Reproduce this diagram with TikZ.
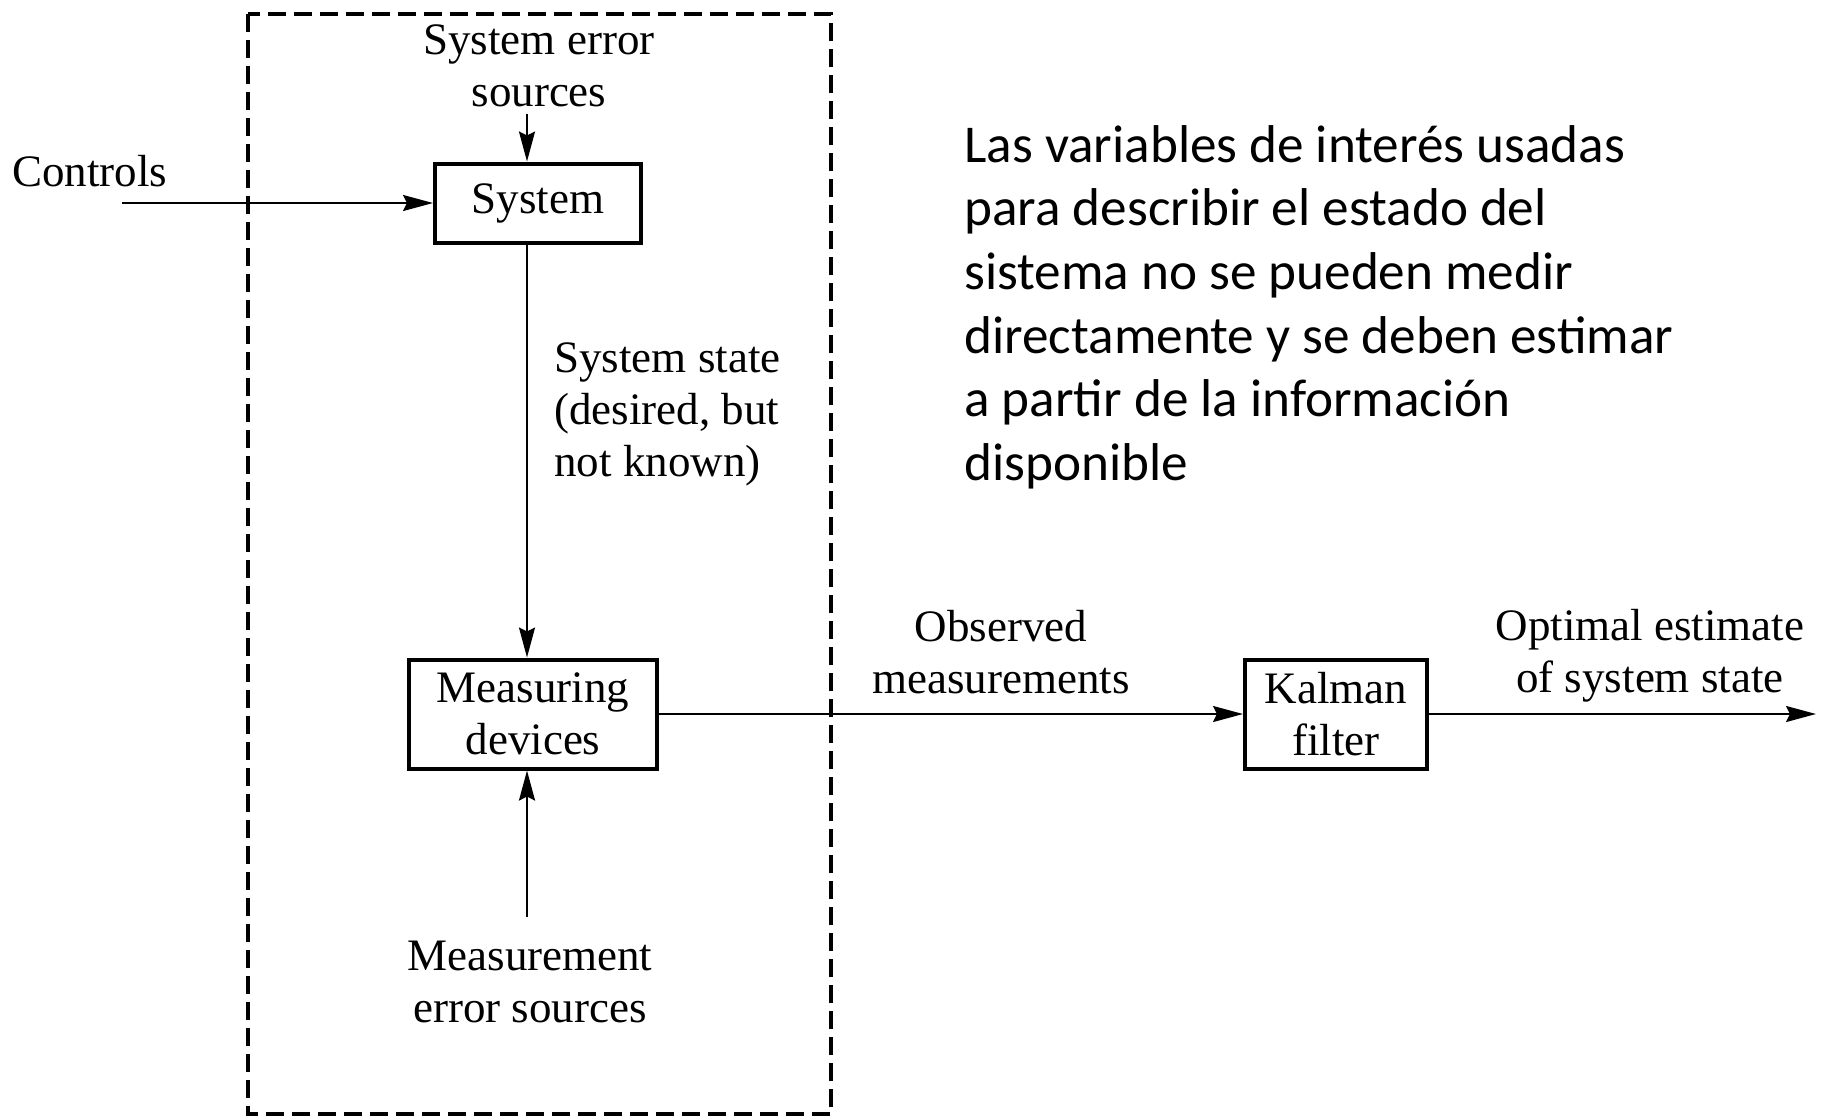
\documentclass[tikz,border=0pt]{standalone}
\usepackage{fontspec}
\setmainfont{Liberation Serif}
\newfontfamily\notefont{Carlito}
\usepackage{tikz}
\usetikzlibrary{arrows.meta}

\newcommand{\lblfont}{\fontsize{22.5}{26}\selectfont}
\tikzset{
  blk/.style={draw, line width=2pt, align=center, font=\lblfont, inner sep=0pt},
  lbl/.style={align=center, font=\lblfont, inner sep=0pt},
  flow/.style={-{Stealth[length=15pt,width=8pt,inset=2pt]}, line width=1.1pt}
}

\begin{document}
\begin{tikzpicture}[x=0.5pt,y=-0.5pt]
\useasboundingbox (0,0) rectangle (1825,1116);

% boundary of the real system
\draw[line width=1.6pt, dash pattern=on 9pt off 4pt] (248,14) rectangle (831,1114);

% blocks
\node[blk, minimum width=103pt, minimum height=39.5pt] (sys) at (538,203) {System};
\node[blk, minimum width=124pt, minimum height=54.5pt] (meas) at (533,714) {Measuring\\devices};
\node[blk, minimum width=91pt, minimum height=54.5pt] (kal) at (1336,714) {Kalman\\filter};

% labels
\node[lbl, anchor=west] (ctrl) at (12,171) {Controls};
\node[lbl] (sesrc) at (539,66) {System error\\sources};
\node[lbl, anchor=west, align=left] (state) at (554,414) {System state\\(desired, but\\not known)};
\node[lbl] (merr) at (530,982) {Measurement\\error sources};
\node[lbl] (obs) at (1001,652) {Observed\\measurements};
\node[lbl] (opt) at (1650,656) {Optimal estimate\\of system state};

\coordinate (spine) at (527,0);
\coordinate (cin) at (122,0);
\coordinate (out) at (1816,0);

% connectors
\draw[flow] (sys.west -| cin) -- (sys.west);
\draw[flow, shorten <=3pt] (sesrc.south -| spine) -- (sys.north -| spine);
\draw[flow] (sys.south -| spine) -- (meas.north -| spine);
\draw[flow, shorten <=12pt] (merr.north -| spine) -- (meas.south -| spine);
\draw[flow] (meas) -- (kal);
\draw[flow] (kal.east) -- (kal.east -| out);

% note
\node[anchor=west, align=left, inner sep=0pt, font=\notefont\fontsize{26.6}{31.8}\selectfont] (note) at (964,307)
  {Las variables de interés usadas\\
   para describir el estado del\\
   sistema no se pueden medir\\
   directamente y se deben estimar\\
   a partir de la información\\
   disponible};
\end{tikzpicture}
\end{document}
